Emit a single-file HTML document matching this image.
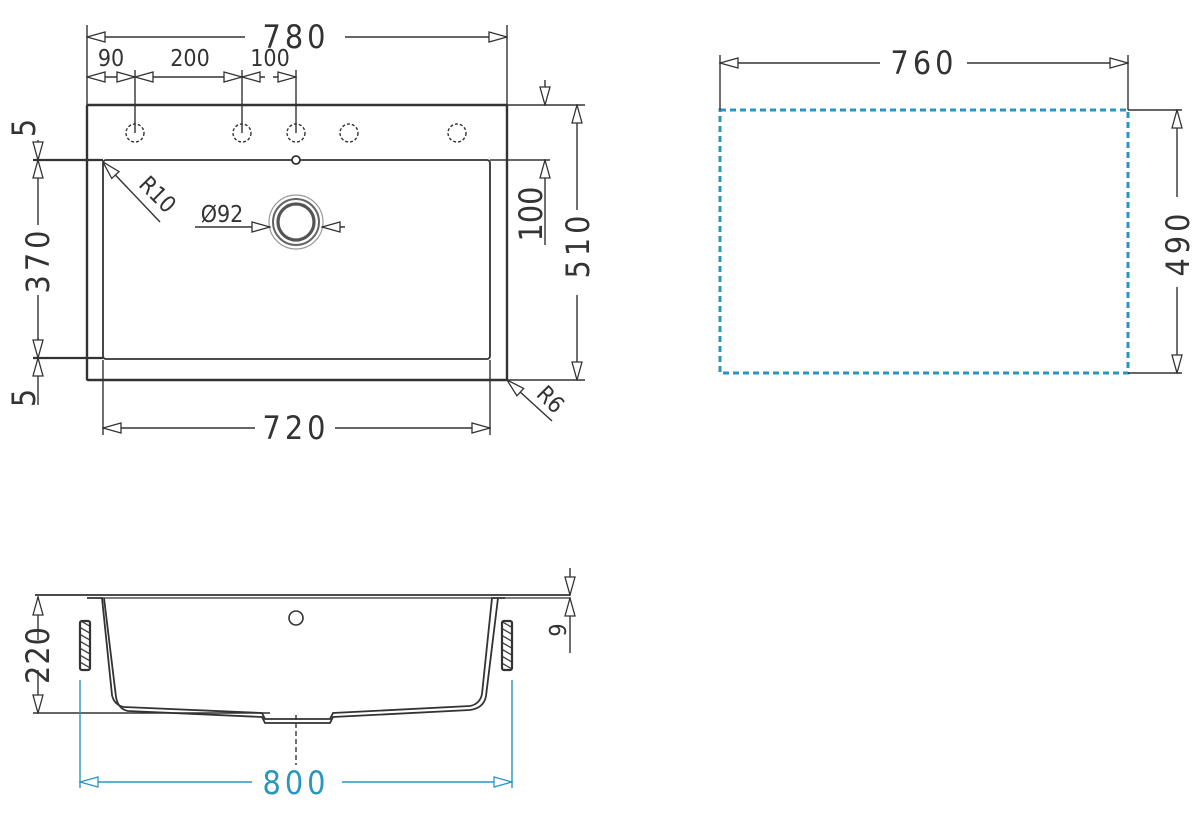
<!DOCTYPE html>
<html><head><meta charset="utf-8"><style>
html,body{margin:0;padding:0;background:#fff}
svg{display:block}
text{font-family:"DejaVu Sans Condensed","Liberation Sans",sans-serif;fill:#333}
</style></head><body>
<svg width="1200" height="821" viewBox="0 0 1200 821" xmlns="http://www.w3.org/2000/svg">
<defs>
<marker id="a" markerWidth="20" markerHeight="12" refX="19" refY="6" orient="auto-start-reverse" markerUnits="userSpaceOnUse">
<path d="M1,1 L19,6 L1,11 Z" fill="#fff" stroke="#333" stroke-width="1.3"/></marker>
<marker id="b" markerWidth="20" markerHeight="12" refX="19" refY="6" orient="auto-start-reverse" markerUnits="userSpaceOnUse">
<path d="M1,1 L19,6 L1,11 Z" fill="#fff" stroke="#2a95bd" stroke-width="1.3"/></marker>
<pattern id="h" width="6" height="6" patternUnits="userSpaceOnUse" patternTransform="rotate(-60)">
<rect width="6" height="6" fill="#fff"/><line x1="0" y1="0" x2="0" y2="6" stroke="#333" stroke-width="2.5"/></pattern>
</defs>
<g stroke="#333" stroke-width="1.4" fill="none">
<rect x="87" y="105" width="420" height="275" stroke-width="2.4" rx="1"/>
<rect x="103" y="160" width="387" height="199" rx="3" stroke-width="1.8"/>
<line x1="33" y1="160" x2="103" y2="160" stroke-width="2.2"/>
<line x1="33" y1="358" x2="103" y2="358" stroke-width="2.2"/>
<line x1="490" y1="160" x2="550" y2="160"/>
<line x1="87" y1="105" x2="87" y2="25"/>
<line x1="507" y1="105" x2="507" y2="25"/>
<line x1="135" y1="133" x2="135" y2="70"/>
<line x1="242" y1="133" x2="242" y2="70"/>
<line x1="296" y1="133" x2="296" y2="70"/>
<line x1="103" y1="360" x2="103" y2="435"/>
<line x1="490" y1="360" x2="490" y2="435"/>
<line x1="507" y1="105" x2="585" y2="105"/>
<line x1="507" y1="380" x2="585" y2="380"/>
<line x1="87" y1="37" x2="245" y2="37" marker-start="url(#a)"/>
<line x1="345" y1="37" x2="507" y2="37" marker-end="url(#a)"/>
<line x1="87" y1="77" x2="111" y2="77" marker-start="url(#a)"/>
<line x1="111" y1="77" x2="135" y2="77" marker-end="url(#a)"/>
<line x1="135" y1="77" x2="242" y2="77" marker-start="url(#a)" marker-end="url(#a)"/>
<line x1="242" y1="77" x2="265" y2="77" marker-start="url(#a)"/>
<line x1="273" y1="77" x2="296" y2="77" marker-end="url(#a)"/>
<g stroke-dasharray="3,2" stroke-width="1.4">
<circle cx="135" cy="133" r="9"/><circle cx="242" cy="133" r="9"/><circle cx="296" cy="133" r="9"/><circle cx="349" cy="133" r="9"/><circle cx="457" cy="133" r="9"/>
</g>
<circle cx="296" cy="160" r="4" fill="#fff" stroke-width="1.8"/>
<circle cx="296" cy="222" r="27" stroke="#999" stroke-width="1.2"/>
<circle cx="296" cy="222" r="23" stroke="#666" stroke-width="2"/>
<circle cx="296" cy="222" r="18" stroke="#555" stroke-width="3.2"/>
<line x1="195" y1="227" x2="270" y2="227" marker-end="url(#a)"/>
<line x1="322" y1="227" x2="345" y2="227" marker-start="url(#a)"/>
<line x1="103" y1="162" x2="160" y2="222" marker-start="url(#a)"/>
<line x1="507" y1="380" x2="552" y2="421" marker-start="url(#a)"/>
<line x1="38" y1="140" x2="38" y2="160" marker-end="url(#a)"/>
<line x1="38" y1="160" x2="38" y2="180" marker-start="url(#a)"/>
<line x1="38" y1="180" x2="38" y2="225"/>
<line x1="38" y1="295" x2="38" y2="340"/>
<line x1="38" y1="338" x2="38" y2="358" marker-end="url(#a)"/>
<line x1="38" y1="358" x2="38" y2="378" marker-start="url(#a)"/>
<line x1="38" y1="378" x2="38" y2="405"/>
<line x1="545" y1="80" x2="545" y2="105" marker-end="url(#a)"/>
<line x1="545" y1="160" x2="545" y2="185" marker-start="url(#a)"/>
<line x1="545" y1="185" x2="545" y2="245"/>
<line x1="577" y1="105" x2="577" y2="210" marker-start="url(#a)"/>
<line x1="577" y1="295" x2="577" y2="380" marker-end="url(#a)"/>
<line x1="103" y1="428" x2="255" y2="428" marker-start="url(#a)"/>
<line x1="335" y1="428" x2="490" y2="428" marker-end="url(#a)"/>
<rect x="720" y="110" width="408" height="263" stroke="#2a95bd" stroke-width="3" stroke-dasharray="6,4"/>
<line x1="720" y1="110" x2="720" y2="55"/>
<line x1="1128" y1="110" x2="1128" y2="55"/>
<line x1="1128" y1="110" x2="1182" y2="110"/>
<line x1="1128" y1="373" x2="1182" y2="373"/>
<line x1="720" y1="63" x2="880" y2="63" marker-start="url(#a)"/>
<line x1="967" y1="63" x2="1128" y2="63" marker-end="url(#a)"/>
<line x1="1177" y1="110" x2="1177" y2="197" marker-start="url(#a)"/>
<line x1="1177" y1="287" x2="1177" y2="373" marker-end="url(#a)"/>
<line x1="35" y1="595" x2="570" y2="595" stroke-width="1.8"/>
<line x1="100" y1="598" x2="570" y2="598" stroke-width="1.2"/>
<path d="M87,598 H102 L112,695 Q114,705 124,707 L262,713 L265,719 L330,719 L333,713 L470,706 Q480,704 482,694 L492,598 H505" stroke-width="1.8"/>
<path d="M104,598 L116,697 Q118,709 128,711 L262,717 L265,723 L330,723 L333,717 L470,710 Q484,708 486,696 L498,598" stroke-width="1.8"/>
<circle cx="296" cy="618" r="7" stroke-width="1.6"/>
<line x1="296" y1="715" x2="296" y2="765" stroke-dasharray="5,3"/>
<rect x="80" y="621" width="10" height="49" rx="2" fill="url(#h)" stroke-width="2.2"/>
<rect x="502" y="621" width="10" height="49" rx="2" fill="url(#h)" stroke-width="2.2"/>
<line x1="33" y1="713" x2="270" y2="713"/>
<line x1="38" y1="597" x2="38" y2="640" marker-start="url(#a)"/>
<line x1="38" y1="670" x2="38" y2="713" marker-end="url(#a)"/>
<line x1="570" y1="568" x2="570" y2="595" marker-end="url(#a)"/>
<line x1="570" y1="598" x2="570" y2="625" marker-start="url(#a)"/>
<line x1="570" y1="625" x2="570" y2="653"/>
<line x1="80" y1="680" x2="80" y2="788" stroke="#2a95bd"/>
<line x1="512" y1="680" x2="512" y2="788" stroke="#2a95bd"/>
<line x1="80" y1="782" x2="252" y2="782" stroke="#2a95bd" marker-start="url(#b)"/>
<line x1="342" y1="782" x2="512" y2="782" stroke="#2a95bd" marker-end="url(#b)"/>
</g>
<g font-size="32">
<text x="296" y="48" text-anchor="middle" letter-spacing="4">780</text>
<text x="296" y="439" text-anchor="middle" letter-spacing="4">720</text>
<text x="924" y="74" text-anchor="middle" letter-spacing="4">760</text>
<text x="296" y="794" text-anchor="middle" letter-spacing="4" style="fill:#2a95bd">800</text>
<text transform="translate(49,260) rotate(-90)" text-anchor="middle" letter-spacing="4">370</text>
<text transform="translate(589,245) rotate(-90)" text-anchor="middle" letter-spacing="4">510</text>
<text transform="translate(1189,243) rotate(-90)" text-anchor="middle" letter-spacing="4">490</text>
<text transform="translate(49,655) rotate(-90)" text-anchor="middle" letter-spacing="1">220</text>
<text transform="translate(35,128) rotate(-90)" text-anchor="middle">5</text>
<text transform="translate(35,398) rotate(-90)" text-anchor="middle">5</text>
<text transform="translate(542,214) rotate(-90)" text-anchor="middle">100</text>
</g>
<g font-size="23">
<text x="111" y="66" text-anchor="middle">90</text>
<text x="190" y="66" text-anchor="middle">200</text>
<text x="270" y="66" text-anchor="middle">100</text>
<text x="222" y="222" text-anchor="middle">Ø92</text>
<text transform="translate(152,200) rotate(45)" text-anchor="middle">R10</text>
<text transform="translate(545,405) rotate(45)" text-anchor="middle">R6</text>
<text transform="translate(566,630) rotate(-90)" text-anchor="middle">9</text>
</g>
</svg>
</body></html>
